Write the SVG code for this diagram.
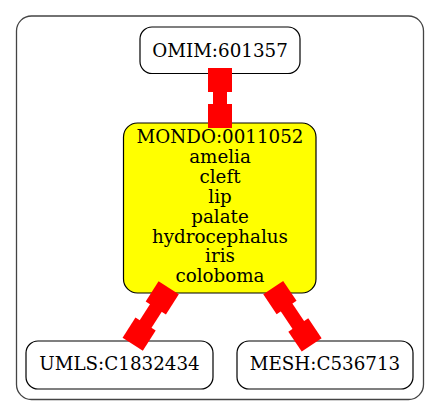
<svg xmlns="http://www.w3.org/2000/svg" width="440" height="416" viewBox="0 0 440 416">
<style>
.node rect{stroke:#000;stroke-width:1.2}
.lbl{font-family:"DejaVu Serif",serif;font-size:18.3px;fill:#000;text-anchor:middle}
.edge rect{fill:#f00;stroke:none}
.edge line{stroke:#f00;stroke-width:14}
</style>
<rect x="16.5" y="16" width="407" height="383.5" rx="15" fill="#fff" stroke="#444" stroke-width="1.3"/>
<g class="node" id="OMIM_601357">
<rect x="140" y="27" width="160" height="46.5" rx="12" fill="#fff"/>
<text class="lbl" x="220" y="56.5">OMIM:601357</text>
</g>
<g class="node" id="MONDO_0011052">
<rect x="123.5" y="123" width="192.5" height="170" rx="14" fill="#ff0"/>
<text class="lbl" x="220" y="143">MONDO:0011052</text>
<text class="lbl" x="220" y="162.9">amelia</text>
<text class="lbl" x="220" y="182.8">cleft</text>
<text class="lbl" x="220" y="202.7">lip</text>
<text class="lbl" x="220" y="222.6">palate</text>
<text class="lbl" x="220" y="242.5">hydrocephalus</text>
<text class="lbl" x="220" y="262.4">iris</text>
<text class="lbl" x="220" y="282.3">coloboma</text>
</g>
<g class="node" id="UMLS_C1832434">
<rect x="26" y="341" width="187" height="48" rx="12" fill="#fff"/>
<text class="lbl" x="119.5" y="370">UMLS:C1832434</text>
</g>
<g class="node" id="MESH_C536713">
<rect x="237" y="341" width="176" height="48" rx="12" fill="#fff"/>
<text class="lbl" x="325" y="370">MESH:C536713</text>
</g>
<g id="connectors">
<g class="edge" id="e1" transform="translate(220,68) rotate(90)">
<line x1="20" y1="0" x2="40" y2="0"/>
<rect x="0" y="-12" width="24" height="24"/>
<rect x="36" y="-12" width="24" height="24"/>
</g>
<g class="edge" id="e2" transform="translate(168.7,287.8) rotate(122.5)">
<line x1="20" y1="0" x2="48" y2="0"/>
<rect x="0" y="-12" width="24" height="24"/>
<rect x="43" y="-12" width="24" height="24"/>
</g>
<g class="edge" id="e3" transform="translate(273.2,287.6) rotate(56.1)">
<line x1="20" y1="0" x2="50" y2="0"/>
<rect x="0" y="-12" width="24" height="24"/>
<rect x="45" y="-12" width="24" height="24"/>
</g>
</g>
</svg>
